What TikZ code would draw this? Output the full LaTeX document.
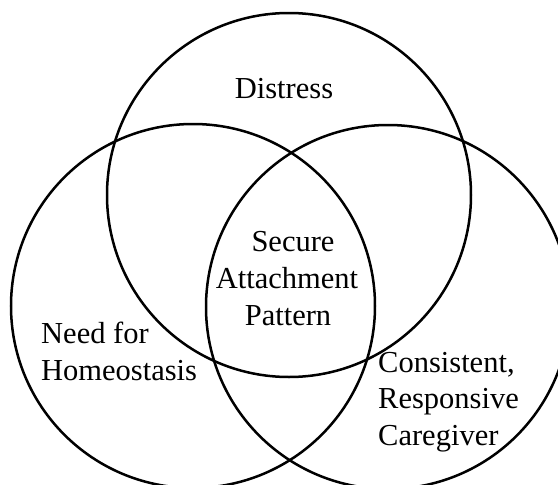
\documentclass[tikz,border=0pt]{standalone}
\usepackage{fontspec}
\setmainfont{Liberation Serif}
\begin{document}
\begin{tikzpicture}[x=1pt,y=-1pt,
  venn/.style={line width=2.5pt, draw=black},
  lbl/.style={font=\fontsize{30.5}{36}\selectfont, inner sep=0pt, text=black}]
\useasboundingbox (0,0) rectangle (558,485);
\fill[white] (0,0) rectangle (558,485);
\draw[venn] (289,195) circle[radius=182pt];
\draw[venn] (193,306) circle[radius=182pt];
\draw[venn] (388,307) circle[radius=182pt];
\node[lbl, anchor=base] (distress) at (284,98) {Distress};
\node[lbl, anchor=base] (secure) at (293,251) {Secure};
\node[lbl, anchor=base] (attach) at (287,288) {Attachment};
\node[lbl, anchor=base] (pattern) at (288,325) {Pattern};
\node[lbl, anchor=base west] (need) at (41,343) {Need for};
\node[lbl, anchor=base west] (homeo) at (41,380) {Homeostasis};
\node[lbl, anchor=base west] (consist) at (378,372) {Consistent,};
\node[lbl, anchor=base west] (resp) at (378,408) {Responsive};
\node[lbl, anchor=base west] (care) at (378,445) {Caregiver};
\end{tikzpicture}
\end{document}
